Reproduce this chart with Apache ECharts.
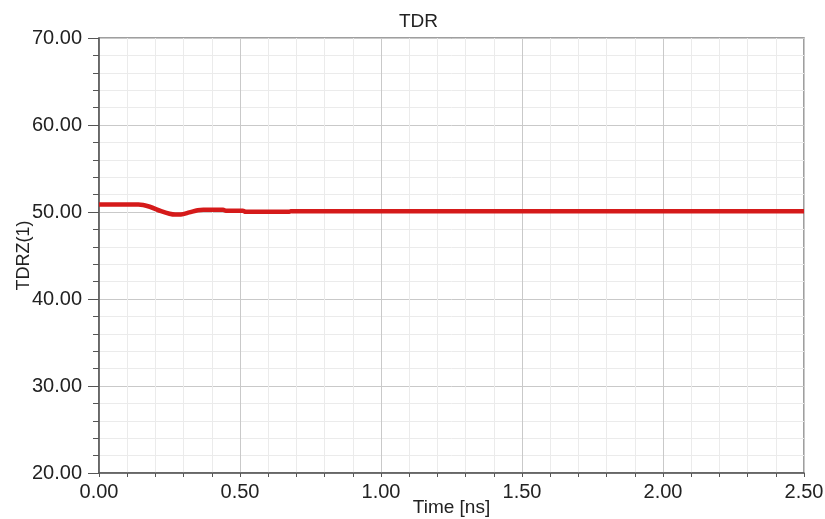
<!DOCTYPE html>
<html>
<head>
<meta charset="utf-8">
<title>TDR</title>
<script src="https://cdn.jsdelivr.net/npm/echarts@6/dist/echarts.min.js"></script>
<style>
  html, body { margin: 0; padding: 0; background: #ffffff; }
  #chart { width: 825px; height: 519px; }
</style>
</head>
<body>
<div id="chart"></div>
<script>
// TDR impedance trace, TDRZ(1) versus time
const timeNs = [0, 0.14, 0.18, 0.22, 0.25, 0.27, 0.29, 0.32, 0.35, 0.37, 0.44, 0.45, 0.51, 0.52, 0.675, 0.68, 2.5];
const tdrz   = [50.85, 50.85, 50.6, 50.1, 49.8, 49.7, 49.72, 49.95, 50.2, 50.26, 50.26, 50.15, 50.15, 50.02, 50.02, 50.1, 50.1];

const xTicks = { min: 0, max: 2.5, step: 0.5 };
const yTicks = { min: 20, max: 70, step: 10 };

const font = '"Liberation Sans", Arial, sans-serif';
const textColor = '#222222';

const chart = echarts.init(document.getElementById('chart'), null, { renderer: 'canvas' });

chart.setOption({
  animation: false,
  backgroundColor: '#ffffff',
  title: {
    text: 'TDR',
    left: 394,
    top: 7,
    textStyle: { fontFamily: font, fontSize: 19, fontWeight: 'normal', color: textColor }
  },
  grid: {
    left: 99, top: 38, right: 21, bottom: 46,
    containLabel: false,
    outerBoundsMode: 'none',
    show: true, borderColor: '#808080', borderWidth: 1.5, backgroundColor: '#ffffff'
  },
  xAxis: {
    type: 'value',
    min: xTicks.min, max: xTicks.max, interval: xTicks.step,
    name: 'Time [ns]',
    nameLocation: 'middle',
    nameGap: 25,
    nameMoveOverlap: false,
    nameTextStyle: { fontFamily: font, fontSize: 19, color: textColor },
    axisLine: { show: true, onZero: false, lineStyle: { color: '#555555', width: 1.5 } },
    axisTick: { show: true, length: 4, lineStyle: { color: '#555555' } },
    minorTick: { show: true, splitNumber: 5, length: 4, lineStyle: { color: '#555555' } },
    axisLabel: {
      margin: 9,
      fontFamily: font, fontSize: 20, color: textColor,
      formatter: v => v.toFixed(2)
    },
    splitLine: { show: true, lineStyle: { color: '#c9c9c9', width: 1 } },
    minorSplitLine: { show: true, lineStyle: { color: '#ebebeb', width: 1 } }
  },
  yAxis: {
    type: 'value',
    min: yTicks.min, max: yTicks.max, interval: yTicks.step,
    name: 'TDRZ(1)',
    nameLocation: 'middle',
    nameGap: 66,
    nameMoveOverlap: false,
    nameTextStyle: { fontFamily: font, fontSize: 18, color: textColor },
    axisLine: { show: true, onZero: false, lineStyle: { color: '#555555', width: 1.5 } },
    axisTick: { show: true, length: 11, lineStyle: { color: '#555555' } },
    minorTick: { show: true, splitNumber: 5, length: 6, lineStyle: { color: '#555555' } },
    axisLabel: {
      margin: 17,
      fontFamily: font, fontSize: 20, color: textColor,
      formatter: v => v.toFixed(2)
    },
    splitLine: { show: true, lineStyle: { color: '#c9c9c9', width: 1 } },
    minorSplitLine: { show: true, lineStyle: { color: '#ebebeb', width: 1 } }
  },
  series: [{
    type: 'line',
    data: timeNs.map((t, i) => [t, tdrz[i]]),
    showSymbol: false,
    smooth: 0.3,
    lineStyle: { color: '#d51a1a', width: 4.5 },
    itemStyle: { color: '#d51a1a' }
  }]
});
</script>
</body>
</html>
